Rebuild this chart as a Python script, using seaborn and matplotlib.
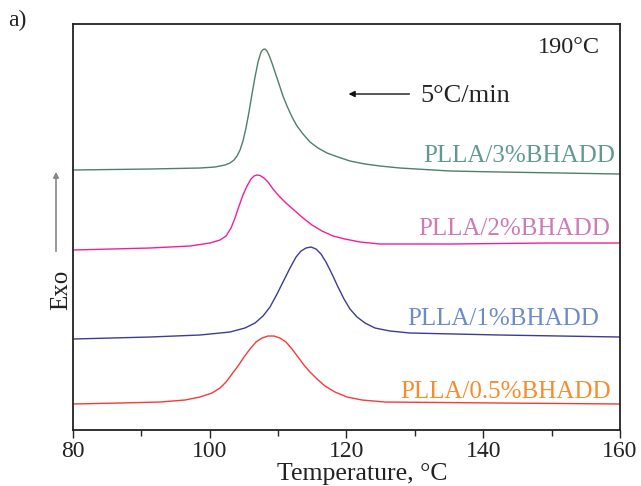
import matplotlib
matplotlib.use("Agg")
import matplotlib.pyplot as plt
import numpy as np
import pandas as pd
import seaborn as sns

# DSC cooling curves (heat flow in arbitrary units, curves already offset)
t_3 = [80.0, 91.26, 98.57, 100.77, 102.23, 102.96, 103.55, 103.99, 104.43, 104.86, 105.30,
       105.74, 106.18, 106.62, 107.06, 107.50, 107.79, 108.08, 108.37, 108.66, 109.10,
       109.54, 110.13, 110.71, 111.30, 112.03, 112.76, 113.64, 114.66, 115.83, 117.15,
       118.76, 120.51, 122.71, 124.90, 127.82, 135.14, 142.45, 151.22, 160.0]
hf_3 = [2.60, 2.61, 2.62, 2.63, 2.65, 2.67, 2.70, 2.74, 2.80, 2.89, 3.02,
        3.18, 3.36, 3.53, 3.68, 3.78, 3.805, 3.81, 3.79, 3.75, 3.67,
        3.58, 3.46, 3.34, 3.24, 3.13, 3.04, 2.96, 2.88, 2.82, 2.77,
        2.73, 2.69, 2.66, 2.64, 2.62, 2.59, 2.58, 2.57, 2.56]

t_2 = [80.0, 91.26, 97.11, 100.04, 101.50, 102.38, 103.11, 103.69, 104.28, 104.86, 105.45,
       106.03, 106.47, 106.91, 107.35, 107.93, 108.52, 109.25, 110.13, 111.15, 112.32,
       113.64, 114.95, 116.42, 118.03, 119.78, 121.97, 124.90, 135.14, 149.76, 160.0]
hf_2 = [1.80, 1.82, 1.84, 1.87, 1.90, 1.94, 2.02, 2.12, 2.24, 2.35, 2.44,
        2.51, 2.54, 2.55, 2.545, 2.52, 2.48, 2.41, 2.34, 2.27, 2.20,
        2.12, 2.05, 1.99, 1.94, 1.91, 1.88, 1.86, 1.86, 1.87, 1.87]

t_1 = [80.0, 91.26, 98.57, 102.96, 105.15, 106.62, 107.79, 108.81, 109.84, 110.86, 111.74,
       112.62, 113.35, 114.08, 114.81, 115.54, 116.27, 117.00, 117.88, 118.76, 119.64,
       120.51, 121.54, 122.71, 124.17, 126.36, 129.29, 142.45, 160.0]
hf_1 = [0.91, 0.93, 0.95, 0.98, 1.02, 1.07, 1.14, 1.23, 1.36, 1.50, 1.62,
        1.73, 1.79, 1.82, 1.83, 1.81, 1.76, 1.68, 1.56, 1.43, 1.31,
        1.21, 1.13, 1.07, 1.02, 0.99, 0.97, 0.95, 0.93]

t_05 = [80.0, 86.87, 92.72, 96.38, 98.57, 100.33, 101.50, 102.38, 103.25, 104.13, 105.01,
        105.89, 106.76, 107.64, 108.52, 109.40, 110.27, 111.15, 112.03, 112.91, 113.78,
        114.66, 115.69, 116.85, 118.32, 120.07, 122.27, 125.63, 142.45, 160.0]
hf_05 = [0.26, 0.27, 0.28, 0.30, 0.33, 0.37, 0.42, 0.48, 0.56, 0.64, 0.73,
         0.81, 0.88, 0.92, 0.94, 0.94, 0.92, 0.88, 0.81, 0.73, 0.65,
         0.58, 0.51, 0.44, 0.38, 0.33, 0.30, 0.28, 0.27, 0.26]

samples = ["PLLA/3%BHADD", "PLLA/2%BHADD", "PLLA/1%BHADD", "PLLA/0.5%BHADD"]
line_colors = ["#4f7f68", "#f0209a", "#3c3c98", "#f53a3a"]
label_colors = ["#5e9a90", "#cf79b6", "#6d8bca", "#f98b2c"]

df = pd.concat([
    pd.DataFrame({"T": t, "hf": h, "sample": s})
    for t, h, s in zip([t_3, t_2, t_1, t_05], [hf_3, hf_2, hf_1, hf_05], samples)
])

sns.set_style("ticks")
plt.rcParams["font.family"] = ["Liberation Serif", "DejaVu Serif"]

fig = plt.figure(figsize=(6.41, 4.86), dpi=100)
ax = fig.add_axes([0.1139, 0.1152, 0.8533, 0.8354])

sns.lineplot(data=df, x="T", y="hf", hue="sample", palette=dict(zip(samples, line_colors)),
             linewidth=1.0, legend=False, ax=ax)

ax.set_xlim(80, 160)
ax.set_ylim(0, 4.06)
ax.set_xticks([80, 100, 120, 140, 160])
ax.set_xticks([90, 110, 130, 150], minor=True)
ax.set_yticks([])
ax.tick_params(axis="x", which="major", direction="out", length=6, width=1.0,
               labelsize=17, colors="#222222", pad=2)
ax.tick_params(axis="x", which="minor", direction="out", length=4, width=1.0)
for sp in ax.spines.values():
    sp.set_linewidth(1.3)
    sp.set_color("#222222")

ax.set_xlabel("Temperature, °C", fontsize=18.5, color="#222222")
ax.xaxis.set_label_coords(0.528, -0.081)
ax.set_ylabel("")

# curve labels
label_pos = [(159.3, 2.74), (158.6, 2.01), (156.9, 1.11), (158.6, 0.38)]
for s, c, (x, y) in zip(samples, label_colors, label_pos):
    ax.text(x, y, s, color=c, fontsize=18, ha="right", va="center")

ax.text(157.0, 3.83, "190°C", fontsize=17.5, ha="right", va="center", color="#222222")
ax.annotate("", xy=(120.3, 3.36), xytext=(129.2, 3.36),
            arrowprops=dict(arrowstyle="-|>", color="#111111", lw=1.0,
                            mutation_scale=9, shrinkA=0, shrinkB=0))
ax.text(130.8, 3.34, "5°C/min", fontsize=19, ha="left", va="center", color="#222222")

# Exo arrow and label at the left
fig.text(61 / 641, 1 - 290 / 486, "Exo", rotation=90, fontsize=18,
         ha="center", va="center", color="#222222")
fig.add_artist(matplotlib.patches.FancyArrowPatch(
    (56 / 641, 1 - 254 / 486), (56 / 641, 1 - 169 / 486), transform=fig.transFigure,
    arrowstyle="-|>", mutation_scale=8, color="#888888", lw=1.2))
fig.text(8 / 641, 1 - 20 / 486, "a)", fontsize=17, ha="left", va="center", color="#222222")

plt.savefig("out.png", dpi=100)
